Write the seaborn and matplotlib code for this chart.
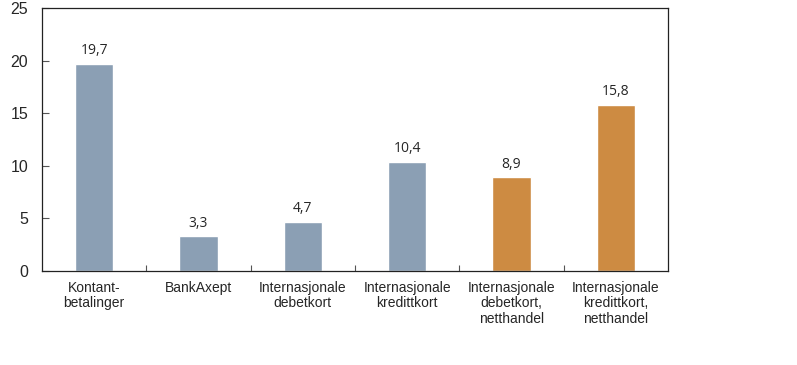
import matplotlib
matplotlib.use("Agg")
import matplotlib.pyplot as plt
import seaborn as sns
import pandas as pd
from matplotlib.ticker import FixedLocator

categories = ["Kontant-\nbetalinger", "BankAxept", "Internasjonale\ndebetkort",
              "Internasjonale\nkredittkort", "Internasjonale\ndebetkort,\nnetthandel",
              "Internasjonale\nkredittkort,\nnetthandel"]
values = [19.7, 3.3, 4.7, 10.4, 8.9, 15.8]
value_labels = ["19,7", "3,3", "4,7", "10,4", "8,9", "15,8"]
colors = ["#8B9FB4", "#8B9FB4", "#8B9FB4", "#8B9FB4", "#CD8B42", "#CD8B42"]

sns.set_theme(style="white")
plt.rcParams['font.family'] = ['Liberation Sans', 'DejaVu Sans']

df = pd.DataFrame({"cat": categories, "val": values})

fig = plt.figure(figsize=(7.97, 3.65), dpi=100)
ax = fig.add_axes([0.0527, 0.2575, 0.7855, 0.7205])
sns.barplot(data=df, x="cat", y="val", hue="cat", palette=colors, legend=False,
            width=0.37, saturation=1, ax=ax)

ax.set_ylim(0, 25)
ax.set_xlim(-0.5, 5.5)
ax.set_yticks([0, 5, 10, 15, 20, 25])
ax.set_yticklabels(["0", "5", "10", "15", "20", "25"], fontsize=11.5)
ax.tick_params(axis='y', direction='in', length=5, width=0.8, color='#555555', left=True, pad=10)
ax.set_xticks(range(len(categories)))
ax.set_xticklabels(categories, fontsize=10, linespacing=1.15)
ax.tick_params(axis='x', which='major', length=0, pad=7)
ax.xaxis.set_minor_locator(FixedLocator([0.5, 1.5, 2.5, 3.5, 4.5]))
ax.tick_params(axis='x', which='minor', direction='in', length=4, width=0.8, color='#555555', bottom=True)
ax.set_xlabel("")
ax.set_ylabel("")

for s in ax.spines.values():
    s.set_color("#222222")
    s.set_linewidth(0.9)

for i, (v, t) in enumerate(zip(values, value_labels)):
    ax.annotate(t, (i, v), xytext=(0, 4), textcoords="offset points", ha="center",
                va="bottom", fontsize=10, family=["Open Sans", "DejaVu Sans"])

fig.savefig("out.png", dpi=100)
